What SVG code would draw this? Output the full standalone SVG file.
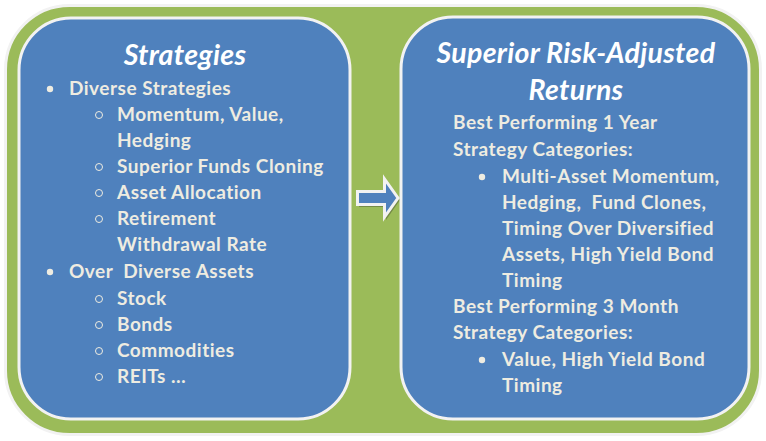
<svg xmlns="http://www.w3.org/2000/svg" width="766" height="441" viewBox="0 0 766 441">
<style>
text{white-space:pre}
.box{fill:#4f81bd;stroke:#f2f2f2;stroke-width:3}
.t{font-family:Lato,"Open Sans",sans-serif;font-weight:bold;font-size:19px;letter-spacing:0.5px;fill:#eeece1}
.h{font-family:Lato,"Open Sans",sans-serif;font-weight:bold;font-style:italic;font-size:28.5px;letter-spacing:0.3px;fill:#ffffff;text-anchor:middle}
.dot{fill:#eeece1}
.circ{fill:none;stroke:#eeece1;stroke-width:1}
</style>
<rect width="766" height="441" fill="#ffffff"/>
<rect x="5.5" y="5.5" width="755" height="429" rx="64" fill="#9bbb59" stroke="#f2f2f2" stroke-width="3"/>
<g id="strategies">
<rect class="box" x="19" y="18" width="331" height="401" rx="52"/>
<text class="h" x="185" y="65">Strategies</text>
<circle class="dot" cx="50" cy="89" r="3.2"/>
<text class="t" x="69" y="95">Diverse Strategies</text>
<circle class="circ" cx="99" cy="115" r="3.5"/>
<text class="t" x="117" y="121">Momentum, Value,</text>
<text class="t" x="117" y="147">Hedging</text>
<circle class="circ" cx="99" cy="167" r="3.5"/>
<text class="t" x="117" y="173">Superior Funds Cloning</text>
<circle class="circ" cx="99" cy="193" r="3.5"/>
<text class="t" x="117" y="199">Asset Allocation</text>
<circle class="circ" cx="99" cy="219" r="3.5"/>
<text class="t" x="117" y="225">Retirement</text>
<text class="t" x="117" y="251">Withdrawal Rate</text>
<circle class="dot" cx="50" cy="272" r="3.2"/>
<text class="t" x="69" y="278">Over  Diverse Assets</text>
<circle class="circ" cx="99" cy="299" r="3.5"/>
<text class="t" x="117" y="305">Stock</text>
<circle class="circ" cx="99" cy="325" r="3.5"/>
<text class="t" x="117" y="331">Bonds</text>
<circle class="circ" cx="99" cy="351" r="3.5"/>
<text class="t" x="117" y="357">Commodities</text>
<circle class="circ" cx="99" cy="377" r="3.5"/>
<text class="t" x="117" y="383">REITs …</text>
</g>
<g id="connectors">
<polygon points="359,193 386,193 386,181 400,200 386,220 386,207 359,207" fill="#5a6b3a" opacity="0.6"/>
<polygon points="357.5,191.5 384.5,191.5 384.5,179 398,198 384.5,217 384.5,204.5 357.5,204.5" fill="#4f81bd" stroke="#f2f2f2" stroke-width="3" stroke-linejoin="miter"/>
</g>
<g id="returns">
<rect class="box" x="401" y="17" width="348" height="402" rx="52"/>
<text class="h" x="576" y="63">Superior Risk-Adjusted</text>
<text class="h" x="576" y="100">Returns</text>
<text class="t" x="453" y="129">Best Performing 1 Year</text>
<text class="t" x="453" y="156">Strategy Categories:</text>
<circle class="dot" cx="482" cy="177" r="3.2"/>
<text class="t" x="502" y="183">Multi-Asset Momentum,</text>
<text class="t" x="502" y="209">Hedging,  Fund Clones,</text>
<text class="t" x="502" y="235">Timing Over Diversified</text>
<text class="t" x="502" y="261">Assets, High Yield Bond</text>
<text class="t" x="502" y="287">Timing</text>
<text class="t" x="453" y="313">Best Performing 3 Month</text>
<text class="t" x="453" y="339">Strategy Categories:</text>
<circle class="dot" cx="482" cy="360" r="3.2"/>
<text class="t" x="502" y="366">Value, High Yield Bond</text>
<text class="t" x="502" y="392">Timing</text>
</g>
</svg>
